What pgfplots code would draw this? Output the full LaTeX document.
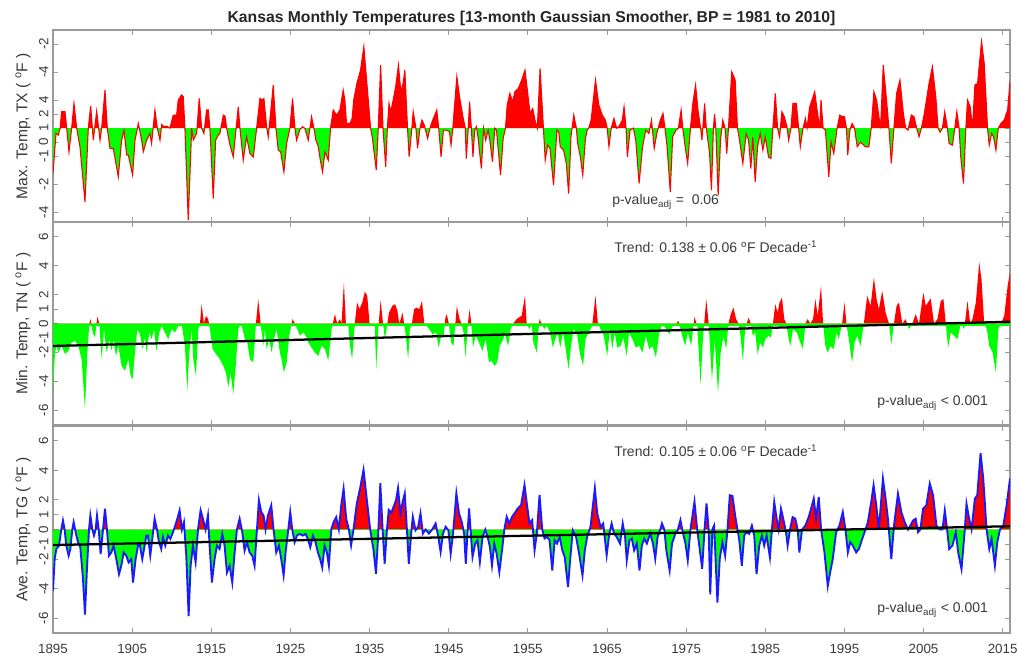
\documentclass[border=0pt]{standalone}
\usepackage{fontspec}
\setmainfont{Liberation Sans}
\usepackage{pgfplots}
\usepackage{pgfplotstable}
\pgfplotsset{compat=1.18}
\definecolor{txtgray}{HTML}{3A3A3A}
\definecolor{axgray}{HTML}{9A9A9A}
\definecolor{pgreen}{HTML}{00FF00}
\definecolor{pred}{HTML}{FF0000}
\definecolor{pblue}{HTML}{1A1AFF}

\pgfplotstableread{
x y
1895.0 -3.24
1895.38 -0.38
1895.67 -0.5
1895.9 0
1896.09 1.17
1896.52 1.17
1896.73 0
1897.02 -1.69
1897.36 0
1897.65 1.76
1897.99 0
1898.41 -1.33
1899.04 -5.26
1899.46 0
1899.76 1.57
1900.09 -0.86
1900.52 1.2
1900.94 -0.86
1901.15 0
1901.57 2.71
1901.86 0
1902.2 -1.45
1902.62 -1.45
1903.25 -3.48
1903.67 -0.86
1903.97 -0.14
1904.31 -1.93
1904.52 -1.93
1905.06 -3.36
1905.36 -0.86
1905.78 0.33
1906.2 -0.86
1906.41 -1.69
1906.83 -0.86
1907.25 -0.38
1907.46 -1.1
1907.88 1.29
1908.18 0
1908.52 -0.86
1908.73 0.26
1909.02 0.1
1909.36 0.14
1909.78 0
1910.2 0.93
1910.62 0.93
1910.83 2.0
1911.25 2.36
1911.46 2.24
1911.67 0
1912.09 -6.57
1912.52 0
1912.73 -0.86
1913.15 -0.38
1913.48 2.12
1913.78 0
1914.07 -0.38
1914.41 1.29
1914.62 1.29
1914.83 0
1915.25 -5.02
1915.55 -0.86
1915.88 -0.5
1916.09 -0.38
1916.52 0.93
1916.73 0.86
1916.94 0
1917.36 -1.21
1917.78 -2.05
1917.99 -0.86
1918.41 1.52
1918.62 0
1919.04 -2.29
1919.46 -0.62
1919.88 -1.81
1920.31 -2.05
1920.73 0
1921.15 2.12
1921.48 2.0
1921.65 2.12
1921.99 0.1
1922.2 -0.62
1922.49 1.05
1922.83 3.07
1923.17 0
1923.46 -1.57
1923.76 -1.69
1924.18 -3.12
1924.52 -1.1
1924.94 0
1925.27 2.12
1925.57 0
1925.78 -0.86
1926.2 -0.1
1926.54 0.1
1926.83 -0.02
1927.25 -0.86
1927.67 0.81
1927.97 0
1928.22 -0.86
1928.52 -1.33
1928.81 -2.4
1929.06 -3.12
1929.36 -1.69
1929.78 -2.29
1930.07 0
1930.41 1.29
1930.83 0.93
1931.25 1.29
1931.67 2.71
1931.88 2.0
1932.09 0.33
1932.52 0.33
1932.8 0.69
1933.0 2.0
1933.4 3.19
1933.86 4.14
1934.28 5.81
1934.7 2.95
1935.13 0
1935.34 -0.62
1935.85 -3.0
1936.1 0
1936.4 4.5
1936.7 0
1937.04 -2.76
1937.25 0
1937.46 1.76
1937.67 1.17
1937.9 1.76
1938.3 2.95
1938.65 4.5
1938.95 2.6
1939.24 3.19
1939.46 4.14
1939.67 1.52
1939.8 0
1940.0 -2.05
1940.35 0
1940.52 1.17
1940.86 0
1941.07 -1.45
1941.37 0
1941.62 0.57
1941.92 0.21
1942.34 -0.74
1942.64 0
1942.9 0.45
1943.5 1.29
1943.74 0
1944.04 -2.05
1944.33 -0.14
1944.67 -0.14
1945.1 -0.26
1945.3 -1.21
1945.52 0
1946.03 3.67
1946.37 2.24
1946.8 0.81
1947.1 0
1947.22 -2.17
1947.47 0
1947.64 1.88
1947.86 0
1948.07 -2.05
1948.28 -0.14
1948.5 0.1
1948.7 -0.62
1949.13 -2.88
1949.42 0
1949.68 -0.86
1949.98 -0.14
1950.2 -0.86
1950.53 -2.4
1950.82 0
1951.04 -0.14
1951.25 -1.45
1951.55 -3.36
1951.88 -0.74
1952.18 0
1952.39 1.64
1952.73 2.48
1953.07 1.88
1953.37 2.6
1953.8 2.83
1954.22 3.43
1954.64 4.14
1954.94 2.71
1955.28 1.05
1955.62 1.4
1955.9 0.57
1956.2 0
1956.55 4.26
1956.97 0
1957.2 -2.29
1957.5 -1.21
1957.8 -1.45
1958.25 -4.07
1958.67 -0.14
1958.9 -0.26
1959.1 -1.33
1959.52 -1.57
1959.86 -2.52
1960.16 -4.67
1960.45 -0.62
1960.8 0.93
1961.13 0
1961.3 -1.1
1961.64 -2.05
1961.94 -3.36
1962.28 -0.74
1962.5 -0.14
1962.7 0
1963.0 0.57
1963.55 3.43
1963.97 1.64
1964.4 0.93
1964.8 0.57
1965.03 0
1965.25 -1.33
1965.54 0
1965.88 0.69
1966.22 0
1966.5 0.1
1966.94 0.57
1967.16 1.52
1967.41 0
1967.58 -2.05
1967.92 -0.14
1968.34 0
1968.64 -0.86
1969.06 -3.95
1969.5 -1.33
1969.9 -0.14
1970.3 -0.38
1970.63 0.57
1970.97 -1.45
1971.3 -0.38
1971.74 0.57
1972.08 1.05
1972.33 0
1972.6 -1.33
1973.0 -4.55
1973.3 -0.62
1973.73 -0.14
1974.03 0
1974.37 1.29
1974.58 0
1974.88 -1.33
1975.2 -2.52
1975.55 0
1975.85 1.76
1976.2 3.07
1976.5 1.29
1976.83 0
1977.0 -0.86
1977.34 1.76
1977.55 0
1977.97 -1.81
1978.2 -4.43
1978.45 0
1978.6 1.0
1978.75 0
1979.05 -4.8
1979.35 -0.86
1979.63 0.57
1979.93 0
1980.14 -1.81
1980.35 0
1980.77 4.02
1981.2 3.43
1981.49 0
1981.75 -0.86
1982.17 -2.52
1982.59 -0.38
1982.89 -0.86
1983.18 -2.88
1983.43 -0.64
1983.73 -3.83
1984.03 -1.33
1984.36 -0.38
1984.7 -1.57
1985.0 -0.64
1985.42 -2.07
1985.72 -2.17
1985.97 0
1986.27 2.48
1986.56 0
1986.81 -0.62
1987.11 1.17
1987.41 0.81
1987.74 0.1
1987.96 -0.86
1988.25 0
1988.5 1.76
1988.93 1.76
1989.22 0
1989.43 -1.33
1989.77 0
1990.07 0.69
1990.28 0
1990.62 1.52
1990.91 2.0
1991.25 2.6
1991.55 1.29
1991.88 0
1992.05 2.0
1992.31 0
1992.6 -0.14
1993.03 -3.48
1993.32 -0.98
1993.66 -1.81
1994.08 0
1994.42 0.93
1994.72 0.81
1995.01 0.81
1995.26 0
1995.43 -1.93
1995.69 -0.14
1995.98 0.33
1996.28 0
1996.62 -1.33
1997.04 -1.0
1997.67 -1.33
1998.1 -1.33
1998.39 0
1998.73 2.6
1999.07 2.0
1999.57 -0.02
1999.91 4.5
2000.25 2.48
2000.63 0
2000.93 -2.52
2001.26 0
2001.6 2.48
2002.02 3.43
2002.45 1.05
2002.74 0
2003.04 -0.14
2003.46 0.93
2003.8 0.81
2004.14 0
2004.43 -0.62
2004.73 0
2005.07 0.93
2005.7 3.19
2006.12 4.38
2006.55 2.24
2006.84 0
2007.09 -0.29
2007.39 0
2007.68 1.17
2008.02 0
2008.23 -1.1
2008.66 -1.21
2008.95 0
2009.21 1.17
2009.5 0
2009.71 -2.07
2010.05 -3.95
2010.35 0
2010.56 2.0
2010.9 1.52
2011.19 0
2011.49 3.07
2011.83 3.19
2012.33 6.17
2012.67 4.62
2013.09 0
2013.3 -1.21
2013.6 -0.38
2013.85 -0.62
2014.15 -1.57
2014.45 0
2014.78 0.33
2015.2 0.57
2015.63 1.29
2015.93 3.31
}\tx

\pgfplotstableread{
x y
1895.0 -4.76
1895.25 -2.0
1895.46 -1.54
1895.67 -2.0
1896.09 -1.54
1896.52 -2.11
1896.94 -1.89
1897.36 -1.31
1897.78 -1.2
1898.2 -1.54
1898.62 -2.46
1899.04 -5.91
1899.34 -2.0
1899.59 0
1899.76 0.3
1900.01 -0.62
1900.31 -0.97
1900.6 0.48
1900.85 0
1901.15 -2.46
1901.44 -0.39
1901.78 -2.0
1902.12 -1.08
1902.41 -1.89
1902.62 -1.08
1902.96 -2.23
1903.25 -1.54
1903.67 -2.92
1904.09 -3.26
1904.52 -2.46
1904.81 -3.61
1905.06 -3.84
1905.36 -2.0
1905.65 -0.39
1905.99 -0.74
1906.33 -1.77
1906.62 -0.97
1906.83 -2.0
1907.17 -0.62
1907.46 -1.08
1907.76 -0.39
1908.09 -1.89
1908.43 -0.62
1908.73 -0.16
1909.15 -0.62
1909.57 -1.08
1909.99 -0.39
1910.41 -0.62
1910.83 -0.16
1911.25 0
1911.67 -1.54
1911.97 -4.64
1912.22 -2.0
1912.52 -0.39
1912.73 -2.46
1913.06 -3.61
1913.36 -0.39
1913.57 0
1913.78 1.33
1914.07 0
1914.33 0.53
1914.62 0.3
1914.83 -0.39
1915.17 -1.77
1915.46 -2.0
1915.76 -2.23
1916.09 -2.46
1916.52 -2.92
1916.85 -3.38
1917.15 -4.39
1917.44 -3.38
1917.78 -4.87
1918.12 -2.69
1918.41 -0.39
1918.71 0
1918.96 -0.39
1919.25 -1.08
1919.55 -1.31
1919.88 -2.46
1920.31 -2.69
1920.64 0
1920.94 1.68
1921.23 0
1921.57 -1.54
1921.78 -0.39
1921.99 -1.77
1922.33 -1.08
1922.62 -2.0
1922.92 -1.08
1923.25 -0.39
1923.67 -2.0
1923.88 -2.46
1924.18 -3.38
1924.52 -2.69
1924.86 -0.85
1925.27 0.3
1925.57 0
1925.87 -0.39
1926.2 -0.85
1926.62 -0.62
1926.96 -0.85
1927.25 -1.31
1927.67 -1.66
1928.09 -2.0
1928.52 -2.23
1928.94 -1.54
1929.36 -1.77
1929.78 -2.57
1930.2 -0.39
1930.62 0.64
1930.92 0
1931.25 0.3
1931.46 0
1931.76 2.83
1932.01 0
1932.31 -0.16
1932.52 -1.5
1932.8 -2.46
1933.14 0
1933.43 1.45
1933.73 0.99
1934.07 1.45
1934.41 2.19
1934.71 1.91
1935.0 0
1935.34 -0.16
1935.64 0
1935.85 -3.15
1936.1 -0.39
1936.4 1.61
1936.7 0
1936.95 -1.08
1937.25 0
1937.46 0.76
1937.89 1.22
1938.23 1.33
1938.52 0.87
1938.74 0
1938.95 0.3
1939.16 0.76
1939.37 0
1939.58 -0.85
1939.88 -2.46
1940.09 -0.39
1940.35 0
1940.64 0.99
1940.94 1.1
1941.28 0.99
1941.62 1.56
1941.92 0
1942.21 -0.16
1942.55 -0.39
1942.98 -0.74
1943.4 -0.62
1943.74 -1.66
1944.04 -0.85
1944.33 -0.97
1944.59 0.41
1944.76 0.64
1945.01 0
1945.31 -1.31
1945.61 -1.54
1946.03 1.22
1946.37 0.3
1946.63 0
1946.88 -0.62
1947.13 -2.34
1947.43 0
1947.64 0.99
1947.86 0
1948.07 -1.66
1948.41 -0.85
1948.83 -1.31
1949.26 -1.89
1949.68 -1.08
1950.1 -2.69
1950.4 -2.57
1950.82 -2.92
1951.12 -2.69
1951.46 -1.54
1951.8 -1.2
1952.1 -0.74
1952.52 -1.54
1952.82 -0.39
1953.16 0
1953.58 0.3
1954.22 0.53
1954.64 1.91
1954.85 0
1955.19 -0.39
1955.49 -0.05
1955.7 -1.31
1956.13 -2.0
1956.47 0.3
1956.76 0
1957.06 -0.39
1957.4 -0.16
1957.82 -0.62
1958.16 -1.66
1958.46 -1.08
1958.76 -0.62
1959.1 -1.66
1959.44 -0.62
1959.73 -1.54
1960.16 -3.15
1960.45 -1.54
1960.79 -0.39
1961.22 -0.74
1961.56 -2.0
1961.98 -2.92
1962.28 -1.08
1962.7 -0.62
1963.13 -0.16
1963.55 1.91
1963.85 0
1964.19 -0.39
1964.61 -0.85
1965.03 -2.23
1965.37 -0.39
1965.67 -1.77
1965.97 -0.62
1966.31 -1.66
1966.73 -1.54
1967.07 -0.97
1967.5 -2.23
1967.79 -0.62
1968.22 -1.08
1968.64 -1.66
1969.06 -1.54
1969.49 -2.0
1969.91 -0.85
1970.34 -1.77
1970.76 -1.54
1971.19 -2.34
1971.61 -0.62
1972.03 0
1972.46 -0.39
1972.88 -0.74
1973.31 -0.16
1973.73 0
1974.03 0.18
1974.45 -0.74
1974.88 -1.54
1975.22 -0.62
1975.64 -1.54
1976.06 0.46
1976.4 -0.16
1976.83 -4.2
1977.12 -1.08
1977.55 1.68
1977.85 0
1978.27 -3.95
1978.61 -1.08
1979.03 -4.76
1979.37 -2.0
1979.72 -0.85
1980.06 -1.77
1980.35 0
1980.65 0.64
1980.98 1.1
1981.32 0.3
1981.62 0
1981.83 -0.62
1982.17 -2.57
1982.46 -0.39
1982.89 0.41
1983.18 0
1983.43 -0.85
1983.73 -0.62
1984.03 -2.11
1984.36 -1.31
1984.7 -1.66
1985.0 -1.08
1985.42 -0.85
1985.72 -0.97
1985.97 0
1986.27 1.33
1986.56 0.76
1986.81 1.45
1987.11 1.79
1987.41 0.3
1987.66 0
1987.96 -1.08
1988.17 -1.54
1988.5 -0.39
1989.01 -0.62
1989.43 -1.31
1989.77 -1.77
1990.07 0
1990.36 0.3
1990.7 0
1991.04 0.3
1991.34 1.68
1991.63 0.53
1992.05 2.6
1992.31 0
1992.6 -1.54
1992.9 -2.0
1993.24 -1.54
1993.66 -1.77
1994.0 -0.62
1994.29 -1.08
1994.72 0
1995.01 1.45
1995.26 0
1995.56 -1.08
1995.98 -2.69
1996.28 -1.31
1996.62 -0.85
1997.04 -1.54
1997.46 0
1997.88 1.91
1998.31 1.22
1998.73 3.17
1999.07 1.68
1999.36 0.99
1999.78 2.25
2000.21 0.76
2000.63 0
2000.93 -1.43
2001.26 0
2001.6 1.22
2001.9 1.45
2002.32 0
2002.74 0.3
2003.16 -0.39
2003.59 0
2004.01 0.64
2004.43 0
2004.98 2.14
2005.28 1.22
2005.57 1.45
2005.91 1.72
2006.33 0
2006.76 0.3
2007.18 1.56
2007.52 1.68
2007.81 0
2008.11 -1.66
2008.45 -0.62
2008.87 -0.85
2009.29 -1.08
2009.71 0
2010.14 -0.39
2010.56 1.56
2010.9 0
2011.19 0.3
2011.61 1.45
2012.04 4.21
2012.33 3.03
2012.67 0
2013.01 -0.39
2013.3 -1.54
2013.73 -2.0
2014.15 -3.4
2014.45 -0.39
2014.78 0
2015.2 0.53
2015.63 2.6
2015.93 3.52
}\tn

\pgfplotstableread{
x y
1895.0 -4.14
1895.21 -2.0
1895.42 -1.32
1895.76 -1.09
1896.05 0
1896.26 0.61
1896.47 0
1896.68 -1.09
1896.98 -1.77
1897.19 -1.32
1897.44 0
1897.61 0.5
1897.86 -0.18
1898.16 -0.86
1898.45 -1.2
1898.79 -3.36
1899.04 -5.75
1899.29 -2.68
1899.55 0
1899.72 0.95
1899.97 0
1900.18 -0.41
1900.39 0
1900.56 0.95
1900.77 0
1901.02 -1.66
1901.32 0
1901.57 1.41
1901.82 0
1902.07 -1.77
1902.37 -1.55
1902.66 -1.09
1903.0 -2.0
1903.34 -3.02
1903.63 -2.45
1903.93 -1.55
1904.26 -1.77
1904.56 -2.23
1904.89 -2.0
1905.11 -3.59
1905.44 -2.0
1905.74 -1.09
1905.95 -0.98
1906.28 -2.0
1906.58 -1.09
1906.79 -0.41
1907.0 -0.41
1907.29 -1.77
1907.55 -0.64
1907.84 0.73
1908.14 0
1908.39 -0.86
1908.68 -1.32
1908.89 -0.52
1909.19 -1.09
1909.53 -0.41
1909.82 -0.64
1910.16 -0.18
1910.45 0.27
1910.71 0.73
1911.0 1.3
1911.29 0
1911.55 0.5
1911.84 -1.77
1912.14 -5.86
1912.39 -2.45
1912.68 -1.09
1913.02 -2.23
1913.32 0
1913.65 1.3
1913.95 0.73
1914.28 0
1914.58 0.95
1914.79 -1.09
1915.08 -3.59
1915.42 -2.0
1915.72 -1.09
1916.05 -1.32
1916.39 -0.3
1916.68 -1.09
1916.98 -2.91
1917.32 -2.45
1917.65 -3.59
1917.95 -1.55
1918.24 0
1918.58 0.73
1918.92 -0.18
1919.21 -1.43
1919.51 -0.86
1919.84 -1.55
1920.18 -1.77
1920.47 -2.45
1920.77 0
1921.02 1.98
1921.32 1.18
1921.61 0.95
1921.86 0
1922.16 0.95
1922.58 1.64
1922.87 0
1923.21 -1.55
1923.55 -1.09
1923.84 -2.0
1924.14 -3.11
1924.39 -1.55
1924.73 0
1924.98 1.18
1925.23 0
1925.53 -0.86
1925.82 -0.41
1926.16 -0.3
1926.58 -0.41
1926.92 -0.3
1927.21 -0.64
1927.51 -1.2
1927.85 -0.41
1928.18 -0.86
1928.47 -1.55
1928.76 -2.0
1929.02 -2.57
1929.32 -1.09
1929.61 -1.55
1929.86 -2.45
1930.16 0
1930.45 0.5
1930.79 0.84
1931.12 0
1931.42 1.64
1931.72 2.77
1932.05 0.73
1932.39 0
1932.67 -1.07
1932.97 0
1933.39 1.77
1933.81 2.8
1934.24 4.05
1934.66 2.0
1935.08 0
1935.51 -1.41
1935.81 -3.0
1936.06 -0.73
1936.36 3.14
1936.65 0
1936.91 -2.32
1937.2 0
1937.42 1.32
1937.75 1.14
1938.05 1.55
1938.35 2.0
1938.6 2.8
1938.9 1.09
1939.19 1.89
1939.45 2.45
1939.75 -0.27
1939.96 -2.32
1940.3 0
1940.47 0.86
1940.81 -0.05
1941.14 0.18
1941.44 1.09
1941.74 -0.27
1942.08 0
1942.5 -0.27
1942.92 0
1943.35 0.41
1943.69 -0.5
1943.98 -1.52
1944.28 -0.27
1944.62 0.18
1944.96 -0.05
1945.25 -1.64
1945.55 -0.27
1945.97 2.45
1946.31 1.09
1946.65 0.52
1946.95 -0.27
1947.16 -2.32
1947.37 -0.27
1947.58 1.43
1947.8 -0.27
1948.01 -1.86
1948.35 -0.95
1948.64 -0.73
1948.94 -2.2
1949.28 -0.5
1949.62 0
1949.92 -0.5
1950.21 -1.18
1950.47 -2.43
1950.76 -0.95
1951.06 -1.64
1951.4 -2.89
1951.74 -1.41
1952.03 0
1952.33 0.86
1952.67 0.41
1953.01 0.86
1953.31 1.09
1953.73 1.43
1954.15 1.66
1954.58 3.02
1954.87 1.77
1955.21 0.41
1955.55 0.64
1955.85 -1.41
1956.14 -0.27
1956.48 2.34
1956.82 0
1957.12 -0.61
1957.42 -0.5
1957.75 -0.73
1958.09 -2.77
1958.39 -0.73
1958.69 -0.95
1959.03 -0.5
1959.36 -1.41
1959.66 -1.86
1960.08 -3.89
1960.38 -1.86
1960.68 -0.05
1961.1 -0.5
1961.48 -1.64
1961.91 -3.11
1962.2 -1.41
1962.5 -0.5
1962.92 0.18
1963.47 2.8
1963.77 1.09
1964.19 0.18
1964.53 0.41
1964.96 -1.75
1965.3 -0.27
1965.59 0.41
1965.89 -0.27
1966.23 -0.5
1966.65 -0.95
1966.99 0.41
1967.29 -0.5
1967.5 -2.09
1967.84 -0.73
1968.14 -0.61
1968.43 -1.41
1968.77 -0.95
1969.11 -2.77
1969.41 -1.07
1969.7 -0.61
1970.04 -0.95
1970.47 -0.27
1970.81 -0.95
1971.1 -1.98
1971.4 -0.5
1971.74 0
1971.95 0.41
1972.25 0
1972.5 -1.41
1972.92 -2.77
1973.22 -0.95
1973.64 -0.27
1973.94 -0.05
1974.28 0.64
1974.62 -0.27
1974.92 -0.95
1975.21 -2.09
1975.55 0
1976.06 1.89
1976.4 0
1976.74 -1.41
1977.03 -2.66
1977.33 0
1977.58 1.77
1977.85 0
1978.05 -4.39
1978.32 0
1978.54 0.27
1978.96 -4.95
1979.25 -2.0
1979.59 -0.86
1979.93 -1.77
1980.23 0
1980.52 2.32
1980.86 2.27
1981.2 0.95
1981.49 0
1981.7 -0.64
1982.04 -2.45
1982.34 -0.41
1982.63 -0.18
1982.97 -0.3
1983.31 0.27
1983.61 -0.41
1983.9 -3.02
1984.24 -1.09
1984.58 -0.41
1984.87 -1.09
1985.17 -0.41
1985.59 -1.89
1985.84 0
1986.14 1.86
1986.44 0.73
1986.69 0
1986.99 1.41
1987.28 0.73
1987.62 -0.18
1987.83 -1.09
1988.13 0
1988.46 0.84
1988.8 0.73
1989.1 0
1989.31 -1.55
1989.65 0
1990.07 0.27
1990.49 0.84
1990.79 1.41
1991.13 2.09
1991.42 0.73
1991.76 2.2
1992.06 0
1992.48 -1.55
1992.9 -3.82
1993.2 -2.91
1993.53 -2.0
1993.96 -0.18
1994.38 0.27
1994.8 1.18
1995.14 0
1995.44 -1.55
1995.73 -0.86
1996.07 -1.09
1996.49 -1.55
1996.83 -1.32
1997.25 -0.64
1997.67 0
1997.97 0.5
1998.39 1.86
1998.69 3.0
1999.03 1.64
1999.36 0
1999.87 3.45
2000.21 2.09
2000.5 0.73
2000.93 -2.0
2001.27 0.27
2001.77 2.43
2002.2 1.18
2002.62 0.5
2003.04 0
2003.34 0.27
2003.67 0.61
2004.01 0.73
2004.31 -0.18
2004.6 0
2004.94 1.41
2005.36 1.64
2005.79 3.11
2006.21 2.32
2006.63 0.27
2007.05 0
2007.39 0
2007.69 1.3
2007.98 0
2008.24 -1.32
2008.66 -1.09
2009.08 -0.18
2009.38 -1.55
2009.8 -2.68
2010.22 0
2010.43 1.75
2010.77 0.73
2011.07 0
2011.49 2.09
2011.79 2.32
2012.21 5.16
2012.55 3.45
2012.97 0
2013.31 -1.32
2013.6 -0.64
2014.02 -2.45
2014.32 -0.86
2014.66 0
2015.08 0.27
2015.5 1.64
2015.93 3.45
}\tg

\pgfplotsset{
  panel/.style={
    scale only axis, width=717.75pt,
    xmin=1895, xmax=2015.93, ymin=-7, ymax=7,
    xtick={1895,1905,1915,1925,1935,1945,1955,1965,1975,1985,1995,2005,2015},
    ytick={-6,-4,-2,-1,0,1,2,4,6},
    tick align=inside, major tick length=3.8pt,
    axis line style={draw=axgray, line width=0.9pt},
    every tick/.style={axgray, line width=0.7pt},
    yticklabel style={rotate=90, anchor=south, font=\fontsize{10}{12}\selectfont, text=txtgray},
    xticklabel style={font=\fontsize{10}{12}\selectfont, text=txtgray, yshift=-5pt},
    ylabel style={at={(axis description cs:-0.0313,0.5)}, anchor=center, font=\fontsize{11.7}{13}\selectfont, text=txtgray},
    xticklabels={},
  }
}

\begin{document}
\begin{tikzpicture}
\path[use as bounding box] (0,0) rectangle (764.25pt,493.5pt);

% ---------- top panel: TX ----------
\begin{axis}[panel, at={(39.75pt,327pt)}, anchor=south west, height=144pt,
  ymin=-6.7, ymax=7,
  yticklabels={-4,-2,-1,0,1,2,4,-4,-2},
  ylabel={Max. Temp, TX ( \textsuperscript{o}F )}]
\begin{scope}
\clip (axis cs:1890,0) rectangle (axis cs:2020,10);
\addplot[fill=pred, draw=none] table {\tx} \closedcycle;
\end{scope}
\begin{scope}
\clip (axis cs:1890,-10) rectangle (axis cs:2020,0);
\addplot[fill=pgreen, draw=none] table {\tx} \closedcycle;
\end{scope}
\addplot[pred, line width=0.8pt] table {\tx};
\end{axis}

% ---------- middle panel: TN ----------
\begin{axis}[panel, at={(39.75pt,174.75pt)}, anchor=south west, height=152.25pt,
  yticklabels={-6,-4,-2,-1,0,1,2,4,6},
  ylabel={Min. Temp, TN ( \textsuperscript{o}F )}]
\addplot[pgreen, line width=1.7pt] coordinates {(1895,-0.08) (2015.93,-0.08)};
\begin{scope}
\clip (axis cs:1890,0) rectangle (axis cs:2020,10);
\addplot[fill=pred, draw=none] table {\tn} \closedcycle;
\end{scope}
\begin{scope}
\clip (axis cs:1890,-10) rectangle (axis cs:2020,0);
\addplot[fill=pgreen, draw=none] table {\tn} \closedcycle;
\end{scope}
\addplot[black, line width=1.7pt] coordinates {(1895,-1.55) (2015.93,0.12)};
\end{axis}

% ---------- bottom panel: TG ----------
\begin{axis}[panel, at={(39.75pt,18.75pt)}, anchor=south west, height=155.25pt,
  yticklabels={-6,-4,-2,-1,0,1,2,4,6},
  xticklabels={1895,1905,1915,1925,1935,1945,1955,1965,1975,1985,1995,2005,2015},
  ylabel={Ave. Temp, TG ( \textsuperscript{o}F )}]
\begin{scope}
\clip (axis cs:1890,0) rectangle (axis cs:2020,10);
\addplot[fill=pred, draw=none] table {\tg} \closedcycle;
\end{scope}
\begin{scope}
\clip (axis cs:1890,-10) rectangle (axis cs:2020,0);
\addplot[fill=pgreen, draw=none] table {\tg} \closedcycle;
\end{scope}
\addplot[pblue, line width=1.4pt] table {\tg};
\addplot[black, line width=1.7pt] coordinates {(1895,-1.05) (2015.93,0.22)};
\end{axis}

% ---------- texts ----------
\node[font=\bfseries\fontsize{11.8}{13}\selectfont, text=black!85] at (398.6pt,479.5pt)
  {Kansas Monthly Temperatures [13-month Gaussian Smoother, BP = 1981 to 2010]};
\begin{scope}[every node/.style={font=\fontsize{10.5}{12}\selectfont, text=txtgray, anchor=west, inner sep=0pt}]
\node at (459pt,342pt) {p-value\textsubscript{adj} =\ \ 0.06};
\node at (460.5pt,308.25pt) {Trend: 0.138 ± 0.06 \textsuperscript{o}F Decade\textsuperscript{-1}};
\node at (657.75pt,191.25pt) {p-value\textsubscript{adj} < 0.001};
\node at (460.5pt,155.25pt) {Trend: 0.105 ± 0.06 \textsuperscript{o}F Decade\textsuperscript{-1}};
\node at (657.75pt,36pt) {p-value\textsubscript{adj} < 0.001};
\end{scope}
\end{tikzpicture}
\end{document}
